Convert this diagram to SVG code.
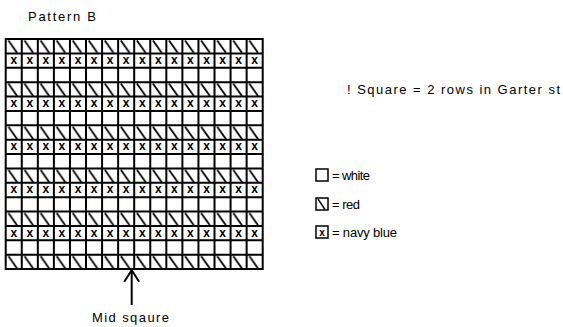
<svg xmlns="http://www.w3.org/2000/svg" width="563" height="327" viewBox="0 0 563 327">
<style>
.t{font-family:"Liberation Sans",Arial,sans-serif;font-size:13px;fill:#000}
.x{font-family:"Liberation Sans",Arial,sans-serif;font-size:12px;font-weight:bold;fill:#000;text-anchor:middle}
.g{fill:none;stroke:#000;stroke-width:2}
.b{fill:#fff;stroke:#000;stroke-width:1.5}
</style>
<defs>
<pattern id="diag" x="5.7" y="39" width="16.0625" height="43.125" patternUnits="userSpaceOnUse">
<line x1="2.7" y1="1.5" x2="11.5" y2="14" stroke="#000" stroke-width="1.8"/>
</pattern>
</defs>
<rect width="563" height="327" fill="#fff"/>
<text class="t" x="28" y="21" textLength="68">Pattern B</text>
<g id="grid">
<rect x="5.7" y="39" width="257" height="230" fill="url(#diag)"/>
<text class="x" y="64" x="13.73 29.79 45.86 61.92 77.98 94.04 110.11 126.17 142.23 158.29 174.36 190.42 206.48 222.54 238.61 254.67">xxxxxxxxxxxxxxxx</text>
<text class="x" y="107.1" x="13.73 29.79 45.86 61.92 77.98 94.04 110.11 126.17 142.23 158.29 174.36 190.42 206.48 222.54 238.61 254.67">xxxxxxxxxxxxxxxx</text>
<text class="x" y="150.2" x="13.73 29.79 45.86 61.92 77.98 94.04 110.11 126.17 142.23 158.29 174.36 190.42 206.48 222.54 238.61 254.67">xxxxxxxxxxxxxxxx</text>
<text class="x" y="193.3" x="13.73 29.79 45.86 61.92 77.98 94.04 110.11 126.17 142.23 158.29 174.36 190.42 206.48 222.54 238.61 254.67">xxxxxxxxxxxxxxxx</text>
<text class="x" y="236.5" x="13.73 29.79 45.86 61.92 77.98 94.04 110.11 126.17 142.23 158.29 174.36 190.42 206.48 222.54 238.61 254.67">xxxxxxxxxxxxxxxx</text>
<path class="g" d="M5.7 39V269M21.76 39V269M37.83 39V269M53.89 39V269M69.95 39V269M86.01 39V269M102.08 39V269M118.14 39V269M134.2 39V269M150.26 39V269M166.33 39V269M182.39 39V269M198.45 39V269M214.51 39V269M230.58 39V269M246.64 39V269M262.7 39V269
M4.7 39H263.7M4.7 53.375H263.7M4.7 67.75H263.7M4.7 82.125H263.7M4.7 96.5H263.7M4.7 110.875H263.7M4.7 125.25H263.7M4.7 139.625H263.7M4.7 154H263.7M4.7 168.375H263.7M4.7 182.75H263.7M4.7 197.125H263.7M4.7 211.5H263.7M4.7 225.875H263.7M4.7 240.25H263.7M4.7 254.625H263.7M4.7 269H263.7"/>
</g>
<g id="connectors">
<path d="M131.7 305V270.5M124.3 281.7L131.7 270L139.1 281.7" fill="none" stroke="#000" stroke-width="2"/>
</g>
<text class="t" x="92" y="322" textLength="77">Mid sqaure</text>
<text class="t" x="347" y="94" textLength="213">! Square = 2 rows  in Garter st</text>
<g id="legend-white">
<rect class="b" x="316" y="169" width="12" height="12"/>
<text class="t" x="332" y="180" textLength="38">= white</text>
</g>
<g id="legend-red">
<rect class="b" x="316" y="198" width="12" height="12"/>
<line x1="318" y1="199" x2="325" y2="209.5" stroke="#000" stroke-width="1.4"/>
<text class="t" x="332" y="209" textLength="28">= red</text>
</g>
<g id="legend-navy">
<rect class="b" x="316" y="226" width="12" height="12"/>
<text class="x" x="322" y="235.5" style="font-size:10px">x</text>
<text class="t" x="332" y="237" textLength="65">= navy blue</text>
</g>
</svg>
